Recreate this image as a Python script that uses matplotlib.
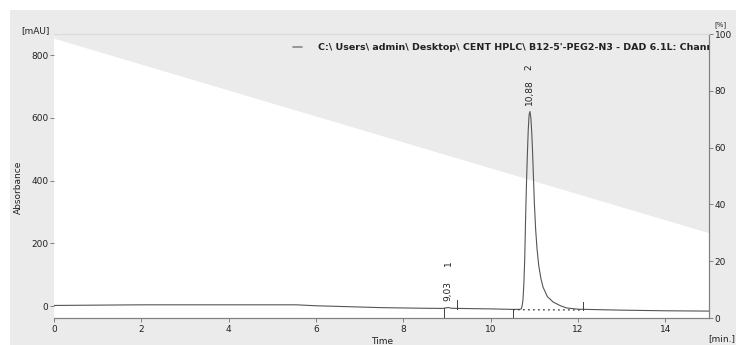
#!/usr/bin/env python3
"""HPLC chromatogram (DAD channel) with solvent gradient overlay."""

import matplotlib
matplotlib.use("Agg")
import matplotlib.pyplot as plt
from matplotlib.patches import Rectangle

# ──────────────────────────────────────────────────────────────────────────
# Data
# ──────────────────────────────────────────────────────────────────────────
trace_time = [0.00, 1.00, 2.00, 3.00, 4.00, 5.00, 5.55, 6.00, 7.00, 7.50,
              8.00, 8.50, 8.90, 8.97, 9.03, 9.10, 9.50, 10.00, 10.50, 10.66,
              10.70, 10.72, 10.74, 10.76, 10.78, 10.80, 10.82, 10.84, 10.86,
              10.88, 10.90, 10.92, 10.94, 10.96, 10.98, 11.00, 11.03, 11.06,
              11.10, 11.15, 11.20, 11.30, 11.43, 11.60, 11.74, 12.00, 13.00,
              14.00, 15.00]
trace_mau = [2, 3, 4, 4, 4, 4, 4, 1, -3, -5,
             -6, -7, -7.5, -6, -4.5, -7, -8, -9, -10.5, -10.5,
             -9, 0, 20, 70, 150, 280, 390, 480, 560,
             610, 620, 600, 555, 490, 410, 330, 245, 185,
             130, 88, 60, 30, 13, 1, -6, -10, -13,
             -15, -16]

gradient_time = [0.0, 15.0]
gradient_pct = [98.5, 30.0]

peak_names = ["1", "2"]
peak_times = [9.03, 10.88]
peak_heights = [-4.5, 620]

# integration marks: (start, end) of each integrated peak
integ_start = [8.93, 10.51]
integ_end = [9.22, 12.11]
integ_base = [-6.5, -11.5]

legend_text = ("C:\\ Users\\ admin\\ Desktop\\ CENT HPLC\\ B12-5'-PEG2-N3 "
               "- DAD 6.1L: Channel 1")

# ──────────────────────────────────────────────────────────────────────────
# Figure
# ──────────────────────────────────────────────────────────────────────────
BG = "#ebebeb"
INK = "#404040"
plt.rcParams["font.family"] = ["DejaVu Sans"]

fig = plt.figure(figsize=(7.36, 3.45), dpi=100)
fig.patch.set_facecolor("white")
fig.add_artist(Rectangle((10 / 736, 0), 726 / 736, 335 / 345,
                         transform=fig.transFigure, facecolor=BG,
                         edgecolor="none", zorder=-10))

ax1 = fig.add_axes([54 / 736, 27 / 345, 655 / 736, 284 / 345])
ax2 = ax1.twinx()
ax1.set_zorder(ax2.get_zorder() + 1)
ax1.patch.set_visible(False)
ax2.patch.set_visible(True)
ax2.patch.set_facecolor("white")

# Gradient (right axis, %) – grey above the line
ax2.fill_between(gradient_time, gradient_pct, 100, color=BG, lw=0)
ax2.set_ylim(0, 100)
ax2.set_yticks([0, 20, 40, 60, 80, 100])

# Chromatogram
ax1.plot(trace_time, trace_mau, color="#555555", lw=0.8)
ax1.set_xlim(0, 15)
ax1.set_ylim(-38, 867)
ax1.set_yticks([0, 200, 400, 600, 800])
ax1.set_xticks([0, 2, 4, 6, 8, 10, 12, 14])

# Integration marks
for s, e, b in zip(integ_start, integ_end, integ_base):
    ax1.plot([s, s], [-38, b], color=INK, lw=0.7)
    ax1.plot([e, e], [b - 2, b + 25], color=INK, lw=0.7)
ax1.plot([integ_start[1], integ_end[1]], [integ_base[1], integ_base[1] - 1],
         color=INK, lw=0.9, ls=(0, (1.5, 2.5)))

# Peak labels
for name, t, h in zip(peak_names, peak_times, peak_heights):
    ax1.annotate(f"{t:.2f}".replace(".", ","), (t, h), xytext=(0, 4.5),
                 textcoords="offset points", rotation=90, ha="center",
                 va="bottom", fontsize=6.5, color="#222222")
    ax1.annotate(name, (t, h), xytext=(0, 32), textcoords="offset points",
                 rotation=90, ha="center", va="center", fontsize=6.5,
                 color="#222222")

# Spines and ticks
for ax in (ax1, ax2):
    ax.spines["left"].set_visible(False)
    ax.spines["top"].set_color("#dadada")
    ax.spines["top"].set_linewidth(0.8)
    ax.spines["bottom"].set_color("#808080")
    ax.spines["right"].set_color("#808080")
    ax.spines["bottom"].set_linewidth(0.8)
    ax.spines["right"].set_linewidth(0.8)
ax1.tick_params(axis="x", length=3, width=0.7, color="#808080",
                labelsize=6.5, pad=2, labelcolor="#222222")
ax1.tick_params(axis="y", length=3, width=0.7, color="#808080",
                labelsize=6.5, pad=1, labelcolor="#222222")
ax2.tick_params(axis="y", length=3, width=0.7, color="#808080",
                labelsize=6.5, pad=1, labelcolor="#222222")

# Header line + data file name (clipped at the right axis like the original)
ax1.annotate("", xy=(305 / 736, 298 / 345), xytext=(290 / 736, 298 / 345),
             xycoords="figure fraction",
             arrowprops=dict(arrowstyle="-", color="#555555", lw=0.8))
hdr = ax1.text(318 / 736, 298 / 345, legend_text, transform=fig.transFigure,
               fontsize=6.8, color="#222222", va="center", ha="left",
               fontweight="semibold", clip_on=True)
hdr.set_clip_path(ax1.patch)

# Axis labels
fig.text(35 / 736, 314 / 345, "[mAU]", fontsize=6.5, ha="center",
         va="center", color="#222222")
fig.text(18 / 736, 158 / 345, "Absorbance", fontsize=6.5, rotation=90,
         ha="center", va="center", color="#222222")
fig.text(382 / 736, 4 / 345, "Time", fontsize=6.5, ha="center", va="center",
         color="#222222")
fig.text(722 / 736, 6 / 345, "[min.]", fontsize=6.5, ha="center",
         va="center", color="#222222")
fig.text(720 / 736, 320 / 345, "[%]", fontsize=5, ha="center",
         va="center", color="#222222")

fig.savefig("out.png", dpi=100)
